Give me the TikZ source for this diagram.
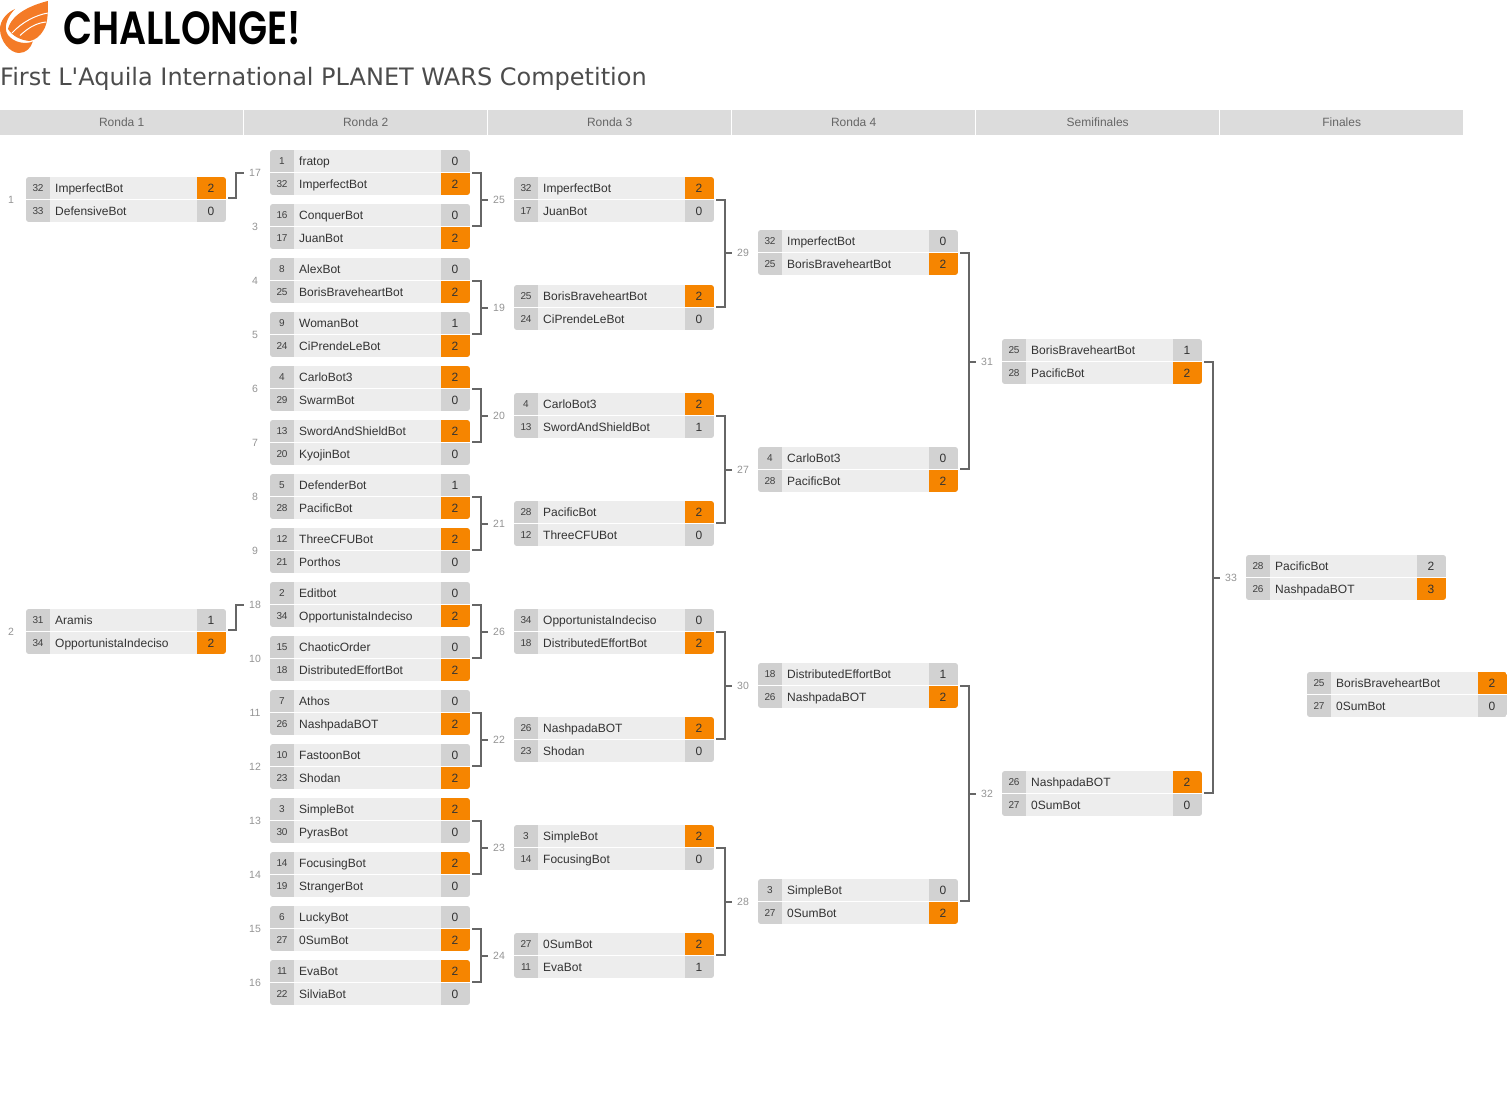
\documentclass[tikz,border=0pt]{standalone}
\usepackage{fontspec}
\setmainfont{Liberation Sans}
\newfontfamily\titlefont{DejaVu Sans}
\newfontfamily\logofont{Poppins}[UprightFont=* SemiBold]
\usetikzlibrary{calc}
\definecolor{rowbg}{HTML}{EDEDED}
\definecolor{seedbg}{HTML}{D0D0D0}
\definecolor{scorebg}{HTML}{D2D2D2}
\definecolor{winbg}{HTML}{F68500}
\definecolor{headbg}{HTML}{DCDCDC}
\definecolor{headtx}{HTML}{666666}
\definecolor{conn}{HTML}{666666}
\definecolor{logoor}{HTML}{F47B27}
\tikzset{
  x=1pt,y=-1pt,
  headcell/.style={fill=headbg,draw=none,minimum width=243pt,minimum height=25pt,inner sep=0pt,anchor=north west,text=headtx,font=\fontsize{12}{14}\selectfont},
  seedtx/.style={inner sep=0pt,anchor=base,text=black!75,font=\fontsize{10}{12}\selectfont\addfontfeature{LetterSpace=-4}},
  nametx/.style={inner sep=0pt,anchor=base west,text=black!80,font=\fontsize{12}{14}\selectfont},
  scoretx/.style={inner sep=0pt,anchor=base,text=black!80,font=\fontsize{12}{14}\selectfont},
  numtx/.style={inner sep=0pt,minimum width=22pt,text=black!42,font=\fontsize{10.5}{12}\selectfont},
  link/.style={draw=conn,line width=2pt},
  matchbox/.style={minimum width=200pt,minimum height=45pt,inner sep=0pt,anchor=north west},
}
% id, x, y, seed1, name1, score1, seed2, name2, score2
\newcommand\mt[9]{%
  \begin{scope}
    \clip[rounded corners=3pt] (#2,#3) rectangle ++(200,45);
    \fill[rowbg] (#2,#3) rectangle ++(200,45);
    \fill[seedbg] (#2,#3) rectangle ++(24,45);
    \ifnum#6>#9\relax\def\cola{winbg}\def\colb{scorebg}\else\def\cola{scorebg}\def\colb{winbg}\fi
    \fill[\cola] (#2+171,#3) rectangle ++(29,22);
    \fill[\colb] (#2+171,#3+23) rectangle ++(29,22);
    \fill[white] (#2,#3+22) rectangle ++(200,1);
  \end{scope}
  \node[matchbox] (m#1) at (#2,#3) {};
  \node[seedtx] at (#2+12,#3+14.6) {#4};
  \node[nametx] at (#2+29,#3+15.3) {#5};
  \node[scoretx] at (#2+185,#3+15.3) {#6};
  \node[seedtx] at (#2+12,#3+37.6) {#7};
  \node[nametx] at (#2+29,#3+38.3) {#8};
  \node[scoretx] at (#2+185,#3+38.3) {#9};
}
\newcommand\lab[3]{\node[numtx] (n#1) at (#2,#3) {#1};}
% two feeders into a labelled match
\newcommand\brk[3]{%
  \coordinate (pa) at ([xshift=2pt,yshift=-0.5pt]m#1.east);
  \coordinate (pb) at ([xshift=2pt,yshift=1.2pt]m#2.east);
  \draw[link] (pa) -- ++(9,0) |- (pb);
  \draw[link] (n#3.west) -- ++(-7,0);
}
% single feeder stepping up to a labelled match
\newcommand\stp[2]{%
  \coordinate (pa) at ([xshift=2pt,yshift=1.7pt]m#1.east);
  \draw[link] (pa) -- ++(8,0) |- (n#2.west);
}
\begin{document}
\begin{tikzpicture}
\useasboundingbox (0,0) rectangle (1509,1113);
% logo
\fill[logoor] (47.8,1) -- (47.8,13) .. controls (47.5,20) and (46,27) .. (43,31)
  .. controls (40,36) and (36,39.5) .. (30,41)
  .. controls (22,40.5) and (13,37) .. (8,29)
  .. controls (10,20) and (20,8) .. (47.8,1) -- cycle;
\fill[logoor] (15,9) .. controls (6,13) and (0,21) .. (0,29)
  .. controls (0,41) and (10,53) .. (19,53)
  .. controls (26,53) and (31,48) .. (32.8,41.5)
  .. controls (26,44.5) and (14,43) .. (8,35)
  .. controls (3,28) and (7,17) .. (15,9) -- cycle;
\draw[white,line width=1pt] (48,13) .. controls (36,15) and (22,22) .. (12,33);
\draw[white,line width=1pt] (46,22) .. controls (36,23) and (28,28) .. (20,35.5);
\node[inner sep=0pt,anchor=west] (logotext) at (63,28.5) {\resizebox{238pt}{33pt}{\logofont CHALLONGE!}};
\node[inner sep=0pt,anchor=west,text=black!70,font=\fontsize{24}{28}\selectfont\titlefont] (title) at (0,79) {First L'Aquila International PLANET WARS Competition};
% header
\node[headcell] (h1) at (0,110) {Ronda 1};
\node[headcell] (h2) at (244,110) {Ronda 2};
\node[headcell] (h3) at (488,110) {Ronda 3};
\node[headcell] (h4) at (732,110) {Ronda 4};
\node[headcell] (h5) at (976,110) {Semifinales};
\node[headcell] (h6) at (1220,110) {Finales};
% round 1
\mt{1}{26}{177}{32}{ImperfectBot}{2}{33}{DefensiveBot}{0}
\mt{2}{26}{609}{31}{Aramis}{1}{34}{OpportunistaIndeciso}{2}
% round 2
\mt{17}{270}{150}{1}{fratop}{0}{32}{ImperfectBot}{2}
\mt{3}{270}{204}{16}{ConquerBot}{0}{17}{JuanBot}{2}
\mt{4}{270}{258}{8}{AlexBot}{0}{25}{BorisBraveheartBot}{2}
\mt{5}{270}{312}{9}{WomanBot}{1}{24}{CiPrendeLeBot}{2}
\mt{6}{270}{366}{4}{CarloBot3}{2}{29}{SwarmBot}{0}
\mt{7}{270}{420}{13}{SwordAndShieldBot}{2}{20}{KyojinBot}{0}
\mt{8}{270}{474}{5}{DefenderBot}{1}{28}{PacificBot}{2}
\mt{9}{270}{528}{12}{ThreeCFUBot}{2}{21}{Porthos}{0}
\mt{18}{270}{582}{2}{Editbot}{0}{34}{OpportunistaIndeciso}{2}
\mt{10}{270}{636}{15}{ChaoticOrder}{0}{18}{DistributedEffortBot}{2}
\mt{11}{270}{690}{7}{Athos}{0}{26}{NashpadaBOT}{2}
\mt{12}{270}{744}{10}{FastoonBot}{0}{23}{Shodan}{2}
\mt{13}{270}{798}{3}{SimpleBot}{2}{30}{PyrasBot}{0}
\mt{14}{270}{852}{14}{FocusingBot}{2}{19}{StrangerBot}{0}
\mt{15}{270}{906}{6}{LuckyBot}{0}{27}{0SumBot}{2}
\mt{16}{270}{960}{11}{EvaBot}{2}{22}{SilviaBot}{0}
% round 3
\mt{25}{514}{177}{32}{ImperfectBot}{2}{17}{JuanBot}{0}
\mt{19}{514}{285}{25}{BorisBraveheartBot}{2}{24}{CiPrendeLeBot}{0}
\mt{20}{514}{393}{4}{CarloBot3}{2}{13}{SwordAndShieldBot}{1}
\mt{21}{514}{501}{28}{PacificBot}{2}{12}{ThreeCFUBot}{0}
\mt{26}{514}{609}{34}{OpportunistaIndeciso}{0}{18}{DistributedEffortBot}{2}
\mt{22}{514}{717}{26}{NashpadaBOT}{2}{23}{Shodan}{0}
\mt{23}{514}{825}{3}{SimpleBot}{2}{14}{FocusingBot}{0}
\mt{24}{514}{933}{27}{0SumBot}{2}{11}{EvaBot}{1}
% round 4
\mt{29}{758}{230}{32}{ImperfectBot}{0}{25}{BorisBraveheartBot}{2}
\mt{27}{758}{447}{4}{CarloBot3}{0}{28}{PacificBot}{2}
\mt{30}{758}{663}{18}{DistributedEffortBot}{1}{26}{NashpadaBOT}{2}
\mt{28}{758}{879}{3}{SimpleBot}{0}{27}{0SumBot}{2}
% semifinals
\mt{31}{1002}{339}{25}{BorisBraveheartBot}{1}{28}{PacificBot}{2}
\mt{32}{1002}{771}{26}{NashpadaBOT}{2}{27}{0SumBot}{0}
% finals
\mt{33}{1246}{555}{28}{PacificBot}{2}{26}{NashpadaBOT}{3}
\mt{34}{1307}{672}{25}{BorisBraveheartBot}{2}{27}{0SumBot}{0}
% match numbers
\lab{1}{11}{199.5}\lab{2}{11}{631.5}
\lab{17}{255}{172.5}\lab{3}{255}{226.5}\lab{4}{255}{280.5}\lab{5}{255}{334.5}
\lab{6}{255}{388.5}\lab{7}{255}{442.5}\lab{8}{255}{496.5}\lab{9}{255}{550.5}
\lab{18}{255}{604.5}\lab{10}{255}{658.5}\lab{11}{255}{712.5}\lab{12}{255}{766.5}
\lab{13}{255}{820.5}\lab{14}{255}{874.5}\lab{15}{255}{928.5}\lab{16}{255}{982.5}
\lab{25}{499}{199.5}\lab{19}{499}{307.5}\lab{20}{499}{415.5}\lab{21}{499}{523.5}
\lab{26}{499}{631.5}\lab{22}{499}{739.5}\lab{23}{499}{847.5}\lab{24}{499}{955.5}
\lab{29}{743}{253}\lab{27}{743}{469.5}\lab{30}{743}{685.5}\lab{28}{743}{901.5}
\lab{31}{987}{361.5}\lab{32}{987}{793.5}
\lab{33}{1231}{577.5}
% connectors
\stp{1}{17}\stp{2}{18}
\brk{17}{3}{25}\brk{4}{5}{19}\brk{6}{7}{20}\brk{8}{9}{21}
\brk{18}{10}{26}\brk{11}{12}{22}\brk{13}{14}{23}\brk{15}{16}{24}
\brk{25}{19}{29}\brk{20}{21}{27}\brk{26}{22}{30}\brk{23}{24}{28}
\brk{29}{27}{31}\brk{30}{28}{32}
\brk{31}{32}{33}
\end{tikzpicture}
\end{document}
